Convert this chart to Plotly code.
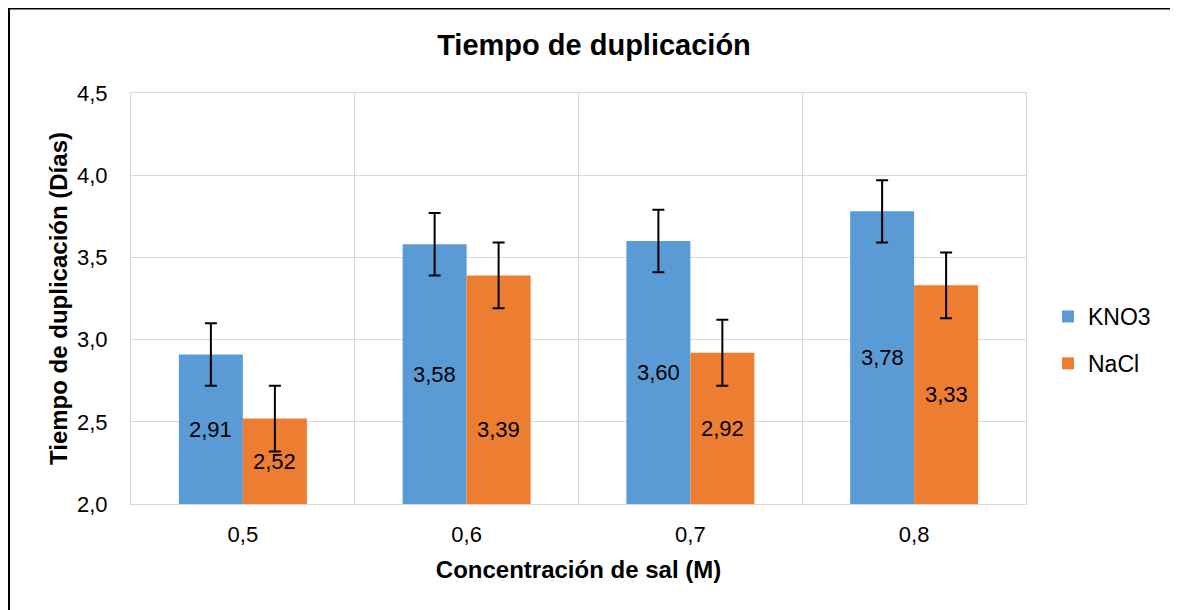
import plotly.graph_objects as go

categories = ["0,5", "0,6", "0,7", "0,8"]
kno3 = [2.91, 3.58, 3.60, 3.78]
nacl = [2.52, 3.39, 2.92, 3.33]
kno3_err = [0.19, 0.19, 0.19, 0.19]
nacl_err = [0.20, 0.20, 0.20, 0.20]
y_ticks = [2.0, 2.5, 3.0, 3.5, 4.0, 4.5]
y_min, y_max = 2.0, 4.5

# page body has an 8px margin, so the figure is drawn 8px smaller
W, H = 1170, 602
L, R, T, B = 123, 152, 85, 106

def fmt(v):
    return f"{v:.2f}".replace(".", ",")

LABEL_FONT = dict(family="Arial", size=22, color="black")

fig = go.Figure()
fig.add_trace(go.Bar(
    name="KNO3", x=categories, y=kno3,
    marker=dict(color="#5B9BD5", line=dict(width=0)),
    error_y=dict(type="data", array=kno3_err, color="black", thickness=2, width=6),
    legendgroup="a",
))
fig.add_trace(go.Bar(
    name="NaCl", x=categories, y=nacl,
    marker=dict(color="#ED7D31", line=dict(width=0)),
    error_y=dict(type="data", array=nacl_err, color="black", thickness=2, width=6),
    legendgroup="b",
))

pw = W - L - R
bargap = 0.428
bar_px = pw / len(categories) * (1 - bargap) / 2

for series, sign in ((kno3, -1), (nacl, 1)):
    for i, (c, v) in enumerate(zip(categories, series)):
        yshift = 0
        if series is nacl and i == 1:
            yshift = -40  # label placed lower in the reference
        fig.add_annotation(x=c, y=(y_min + v) / 2, text=fmt(v), showarrow=False,
                           xshift=sign * bar_px / 2, yshift=yshift,
                           yanchor="middle", font=LABEL_FONT)

ph = H - T - B
def px_x(p):
    return (p - L) / pw
def px_y(p):
    return (H - B - p) / ph

fig.add_shape(type="line", xref="paper", yref="paper",
              x0=px_x(1), x1=px_x(1), y0=px_y(0), y1=px_y(H + 5),
              line=dict(color="black", width=2))
fig.add_shape(type="line", xref="paper", yref="paper",
              x0=px_x(0), x1=px_x(W + 5), y0=px_y(0.5), y1=px_y(0.5),
              line=dict(color="black", width=2))

fig.update_layout(
    width=W, height=H,
    margin=dict(l=L, r=R, t=T, b=B, pad=0),
    paper_bgcolor="white", plot_bgcolor="white",
    separators=",.",
    barmode="group", bargap=bargap, bargroupgap=0,
    title=dict(text="<b>Tiempo de duplicación</b>", x=px_x(586), xanchor="center",
               xref="paper",
               y=1 - 37 / H, yanchor="middle",
               font=dict(family="Arial", size=29, color="black")),
    font=dict(family="Arial", color="black"),
    legend=dict(x=px_x(1040), xanchor="left", y=px_y(332), yanchor="middle",
                font=dict(family="Arial", size=23, color="black"),
                tracegroupgap=14, itemwidth=30, bgcolor="rgba(0,0,0,0)"),
    showlegend=True,
    xaxis=dict(
        type="category", tickson="boundaries",
        showgrid=True, gridcolor="#d9d9d9", gridwidth=1,
        showline=True, linecolor="#d9d9d9", linewidth=1, mirror=True,
        ticks="", ticklabelstandoff=11,
        tickfont=dict(family="Arial", size=22, color="black"),
        title=dict(text="<b>Concentración de sal (M)</b>", standoff=14,
                   font=dict(family="Arial", size=24, color="black")),
    ),
    yaxis=dict(
        range=[y_min, y_max], tickvals=y_ticks, tickformat=".1f",
        showgrid=True, gridcolor="#d9d9d9", gridwidth=1,
        showline=True, linecolor="#d9d9d9", linewidth=1, mirror=True,
        zeroline=False,
        ticks="outside", ticklen=18, tickcolor="rgba(0,0,0,0)",
        tickfont=dict(family="Arial", size=22, color="black"),
        title=dict(text="<b>Tiempo de duplicación (Días)</b>", standoff=2,
                   font=dict(family="Arial", size=24, color="black")),
    ),
)

fig.write_html("out.html")
